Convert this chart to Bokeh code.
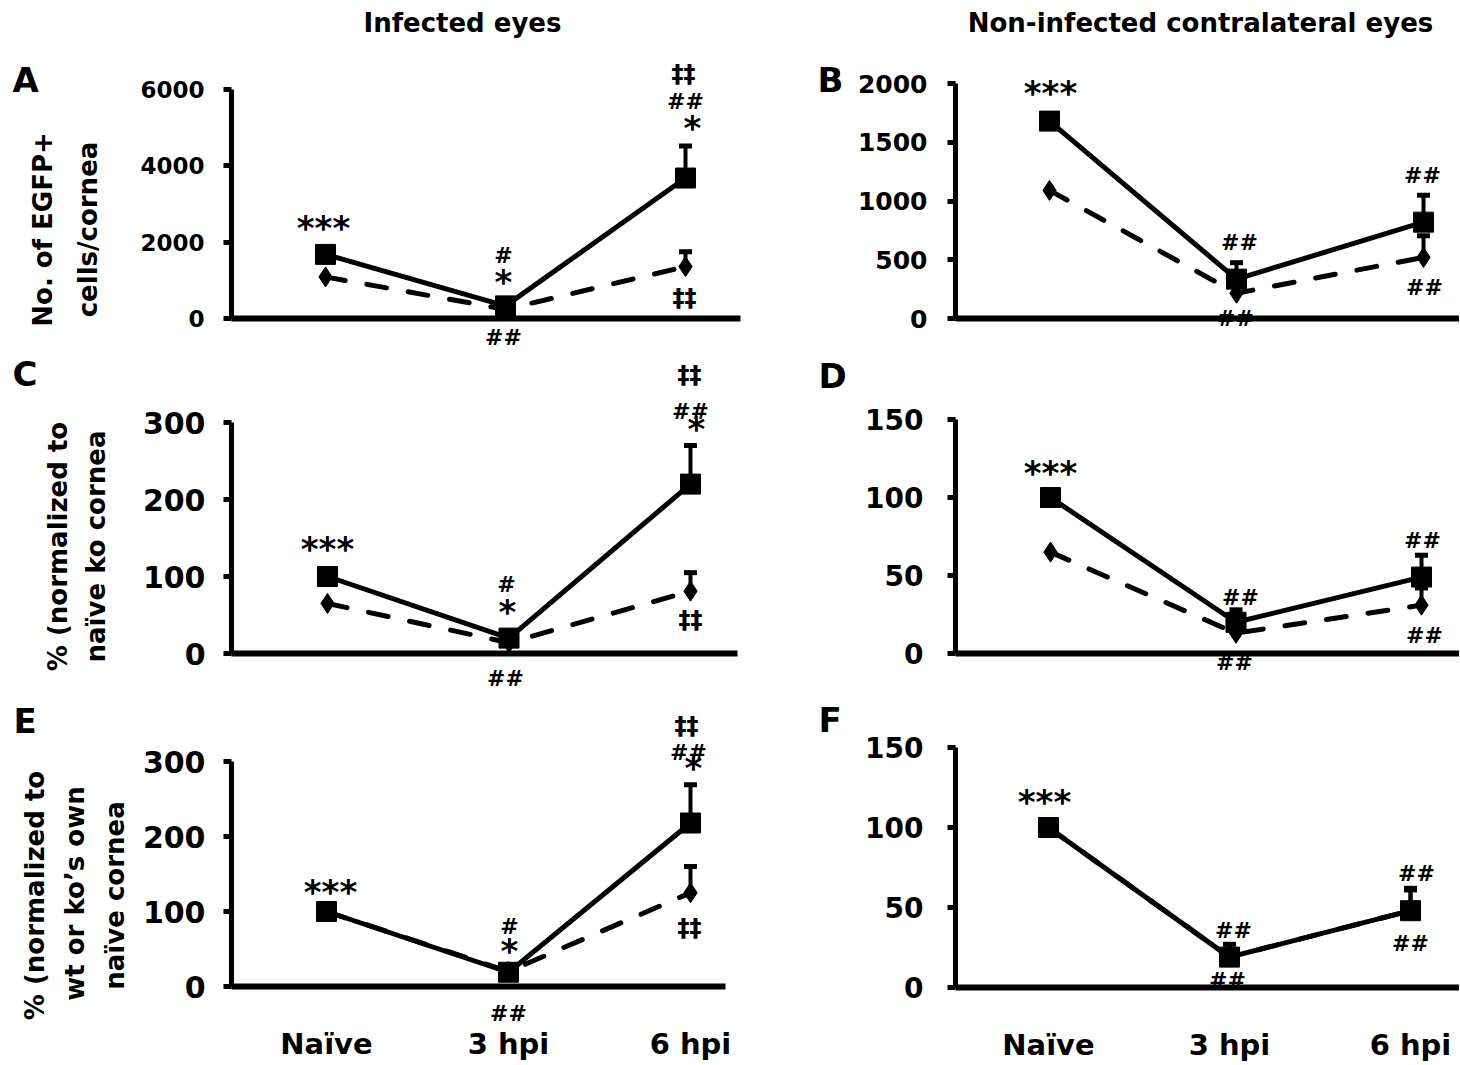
import math
from bokeh.plotting import figure
from bokeh.models import FixedTicker, Label, Whisker, TeeHead, ColumnDataSource, Range1d
from bokeh.layouts import column, row
from bokeh.embed import file_html
from bokeh.resources import INLINE

# ---------------- data ----------------
categories = ["Naïve", "3 hpi", "6 hpi"]
column_titles = ["Infected eyes", "Non-infected contralateral eyes"]

# A: infected eyes, cell counts
a_ko = [1680, 330, 3680]
a_ko_err = [0, 0, 840]
a_wt = [1090, 240, 1360]
a_wt_err = [0, 0, 390]
# B: contralateral eyes, cell counts
b_ko = [1680, 335, 820]
b_ko_err = [0, 140, 230]
b_wt = [1090, 215, 520]
b_wt_err = [0, 0, 185]
# C: infected, % of naive ko
c_ko = [100, 20, 220]
c_ko_err = [0, 0, 50]
c_wt = [65, 14, 81]
c_wt_err = [0, 0, 24]
# D: contralateral, % of naive ko
d_ko = [100, 20, 49]
d_ko_err = [0, 8, 14]
d_wt = [65, 13, 31]
d_wt_err = [0, 0, 11]
# E: infected, % of own naive
e_ko = [100, 19, 218]
e_ko_err = [0, 0, 51]
e_wt = [100, 20, 125]
e_wt_err = [0, 0, 35]
# F: contralateral, % of own naive
f_ko = [100, 19, 48]
f_ko_err = [0, 8, 14]
f_wt = [100, 19, 48]
f_wt_err = [0, 0, 13]

a_yticks = [0, 2000, 4000, 6000]
b_yticks = [0, 500, 1000, 1500, 2000]
c_yticks = [0, 100, 200, 300]
d_yticks = [0, 50, 100, 150]
e_yticks = [0, 100, 200, 300]
f_yticks = [0, 50, 100, 150]

a_ytitle = ["No. of EGFP+", "cells/cornea"]
c_ytitle = ["% (normalized to", "naïve ko cornea"]
e_ytitle = ["% (normalized to", "wt or ko’s own", "naïve cornea"]

# significance marks: (category index, text)
a_marks = [(0, "***"), (1, "#"), (1, "*"), (1, "##"), (2, "‡‡"), (2, "##"), (2, "*"), (2, "‡‡")]
b_marks = [(0, "***"), (1, "##"), (1, "##"), (2, "##"), (2, "##")]
c_marks = [(2, "‡‡"), (2, "##"), (2, "*"), (0, "***"), (1, "#"), (1, "*"), (1, "##"), (2, "‡‡")]
d_marks = [(0, "***"), (1, "##"), (1, "##"), (2, "##"), (2, "##")]
e_marks = [(2, "‡‡"), (2, "##"), (2, "*"), (0, "***"), (1, "#"), (1, "*"), (1, "##"), (2, "‡‡")]
f_marks = [(0, "***"), (1, "##"), (1, "##"), (2, "##"), (2, "##")]

# ---------------- layout (page pixels) ----------------
FONT = "DejaVu Sans"
COLS = [(0, 744), (744, 715)]
ROWS = [(0, 350), (350, 345), (695, 369)]

GEOM = {
    "A": dict(col=0, row=0, frame=(231, 740, 89, 318), pts=(325, 685), tick_fs=23, standoff=19,
              letter=(12, 79), title=[(42, 229), (87, 229)], xlabels=False,
              marks=[(323, 227), (503, 255), (503, 281), (503, 337), (683, 73), (685, 101), (692, 127), (684, 297)]),
    "B": dict(col=1, row=0, frame=(955, 1460, 83, 318), pts=(1049, 1423), tick_fs=25, standoff=20,
              letter=(817, 79), title=None, xlabels=False,
              marks=[(1050, 92), (1239, 242), (1235, 318), (1422, 175), (1424, 287)]),
    "C": dict(col=0, row=1, frame=(231, 737, 422, 653), pts=(327, 690), tick_fs=30, standoff=18,
              letter=(12, 373), title=[(57, 546), (95, 546)], xlabels=False,
              marks=[(689, 374), (690, 411), (696, 428), (327, 548), (506, 584), (507, 611), (505, 678), (690, 619)]),
    "D": dict(col=1, row=1, frame=(955, 1460, 419, 653), pts=(1050, 1421), tick_fs=28, standoff=24,
              letter=(818, 375), title=None, xlabels=False,
              marks=[(1050, 472), (1240, 597), (1234, 662), (1422, 540), (1424, 635)]),
    "E": dict(col=0, row=2, frame=(231, 725, 761, 986), pts=(326, 690), tick_fs=30, standoff=18,
              letter=(13, 720), title=[(34, 895), (74, 893), (114, 895)], xlabels=True,
              marks=[(686, 725), (688, 752), (693, 767), (330, 891), (509, 926), (509, 950), (508, 1013), (689, 927)]),
    "F": dict(col=1, row=2, frame=(955, 1460, 747, 987), pts=(1048, 1410), tick_fs=28, standoff=24,
              letter=(818, 719), title=None, xlabels=True,
              marks=[(1044, 801), (1233, 930), (1227, 980), (1416, 873), (1410, 943)]),
}

MARK_FS = {"#": 22, "*": 34, "‡": 24}


def make_panel(key, ko, ko_err, wt, wt_err, yticks, ytitle, marks):
    g = GEOM[key]
    fx, fw = COLS[g["col"]]
    fy, fh = ROWS[g["row"]]
    left, right, top, bottom = g["frame"]
    p0, p2 = g["pts"]
    s = (p2 - p0) / 2.0
    y0, y1 = yticks[0], yticks[-1]

    def xd(px):
        return (px - p0) / s

    def yd(py):
        return y0 + (bottom - py) / (bottom - top) * (y1 - y0)

    # the plotting area covers the whole canvas; axes are pinned inside it
    p = figure(width=fw, height=fh, output_backend="svg", toolbar_location=None,
               x_range=Range1d(xd(fx), xd(fx + fw)), y_range=Range1d(yd(fy + fh), yd(fy)),
               min_border=0, min_border_left=0, min_border_right=0,
               min_border_top=0, min_border_bottom=0)
    p.outline_line_color = None
    p.grid.visible = False
    p.background_fill_color = "white"
    p.border_fill_color = "white"

    # y axis
    p.yaxis.fixed_location = xd(left)
    p.yaxis.bounds = (y0, y1)
    p.yaxis.ticker = FixedTicker(ticks=yticks)
    p.yaxis.axis_line_width = 5
    p.yaxis.axis_line_color = "black"
    p.yaxis.major_tick_line_width = 5
    p.yaxis.major_tick_line_color = "black"
    p.yaxis.major_tick_out = 8
    p.yaxis.major_tick_in = 0
    p.yaxis.minor_tick_line_color = None
    p.yaxis.major_label_text_font = FONT
    p.yaxis.major_label_text_font_style = "bold"
    p.yaxis.major_label_text_font_size = f"{g['tick_fs']}px"
    p.yaxis.major_label_text_color = "black"
    p.yaxis.major_label_standoff = g["standoff"]

    # x axis
    p.xaxis.fixed_location = y0
    p.xaxis.bounds = (xd(left), xd(right))
    p.xaxis.axis_line_width = 6
    p.xaxis.axis_line_color = "black"
    p.xaxis.major_tick_line_color = None
    p.xaxis.minor_tick_line_color = None
    p.xaxis.major_tick_out = 0
    p.xaxis.major_tick_in = 0
    if g["xlabels"]:
        p.xaxis.ticker = FixedTicker(ticks=list(range(len(categories))))
        p.xaxis.major_label_overrides = {i: c for i, c in enumerate(categories)}
        p.xaxis.major_label_text_font = FONT
        p.xaxis.major_label_text_font_style = "bold"
        p.xaxis.major_label_text_font_size = "29px"
        p.xaxis.major_label_text_color = "black"
        p.xaxis.major_label_standoff = 40
    else:
        p.xaxis.ticker = FixedTicker(ticks=[])

    xs_cat = list(range(len(categories)))

    # error bars (upper only)
    for vals, errs in ((wt, wt_err), (ko, ko_err)):
        idx = [i for i, e in enumerate(errs) if e > 0]
        if idx:
            src = ColumnDataSource(dict(x=idx, lo=[vals[i] for i in idx],
                                        hi=[vals[i] + errs[i] for i in idx]))
            p.add_layout(Whisker(source=src, base="x", lower="lo", upper="hi", dimension="height",
                                 line_width=4, line_color="black", level="underlay",
                                 upper_head=TeeHead(size=13, line_width=5, line_color="black"),
                                 lower_head=None))

    # wt: dashed with diamonds, ko: solid with squares
    p.line(xs_cat, wt, line_width=5, line_color="black", line_dash="20 22", line_cap="round")
    p.scatter(xs_cat, wt, marker="diamond", size=20, color="black")
    p.line(xs_cat, ko, line_width=5, line_color="black")
    p.scatter(xs_cat, ko, marker="square", size=20, color="black")

    def lab(px, py, text, fs, align="center", angle=0.0):
        p.add_layout(Label(x=xd(px), y=yd(py), text=text, text_font=FONT, text_font_style="bold",
                           text_font_size=f"{fs}px", text_align=align, text_baseline="middle",
                           text_color="black", angle=angle))

    # significance marks (positioned by their visual centre)
    for (ci, txt), (cx, cy) in zip(marks, g["marks"]):
        lab(cx, cy, txt, MARK_FS[txt[0]])

    # panel letter
    lx, ly = g["letter"]
    lab(lx, ly, key, 34, align="left")

    # y title (rotated lines)
    if ytitle:
        for line, (cx, cy) in zip(ytitle, g["title"]):
            lab(cx, cy, line, 26, angle=math.pi / 2)

    # column titles on top row
    if g["row"] == 0:
        cx = 462 if g["col"] == 0 else 1200
        lab(cx, 22, column_titles[g["col"]], 26)
    return p


pA = make_panel("A", a_ko, a_ko_err, a_wt, a_wt_err, a_yticks, a_ytitle, a_marks)
pB = make_panel("B", b_ko, b_ko_err, b_wt, b_wt_err, b_yticks, None, b_marks)
pC = make_panel("C", c_ko, c_ko_err, c_wt, c_wt_err, c_yticks, c_ytitle, c_marks)
pD = make_panel("D", d_ko, d_ko_err, d_wt, d_wt_err, d_yticks, None, d_marks)
pE = make_panel("E", e_ko, e_ko_err, e_wt, e_wt_err, e_yticks, e_ytitle, e_marks)
pF = make_panel("F", f_ko, f_ko_err, f_wt, f_wt_err, f_yticks, None, f_marks)

layout = column(row(pA, pB, spacing=0), row(pC, pD, spacing=0), row(pE, pF, spacing=0), spacing=0)

open("out.html", "w").write(file_html(layout, INLINE))
